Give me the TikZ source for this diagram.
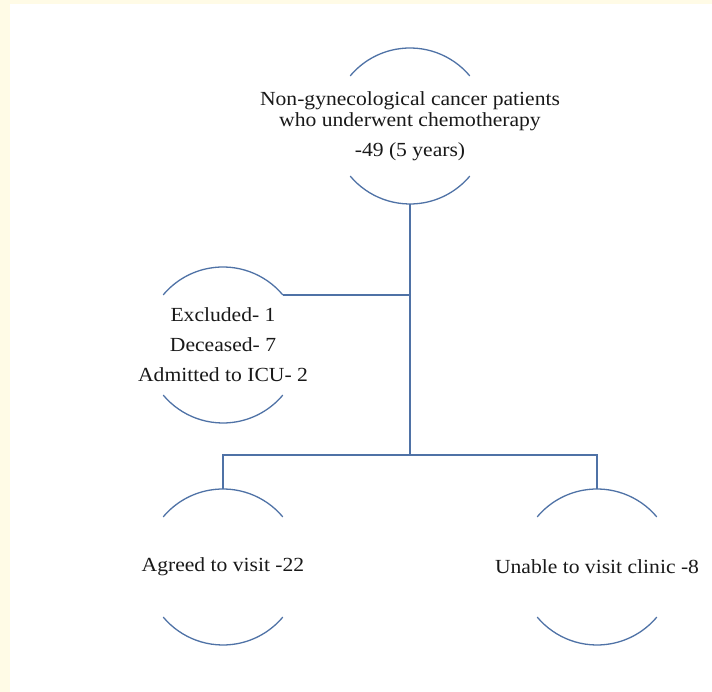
\documentclass[tikz,border=0pt]{standalone}
\usepackage{fontspec}
\setmainfont[FakeStretch=1.08]{Liberation Serif}
\usepackage{tikz}
\usepackage{xcolor}

\definecolor{arcblue}{RGB}{79,114,166}
\definecolor{pagecream}{RGB}{255,251,230}

\tikzset{
  bubble/.style={circle, minimum size=156pt, inner sep=0pt, outer sep=0pt},
  bubbletext/.style={align=center, font=\fontsize{20}{21}\selectfont, text=black!90},
  rim/.style={draw=arcblue, line width=1.3pt},
  link/.style={draw=arcblue, line width=1.3pt}
}

\begin{document}
\begin{tikzpicture}[x=1pt, y=1pt]
\fill[pagecream] (0,0) rectangle (712,692);
\fill[white] (10,0) rectangle (712,688);
\useasboundingbox (0,0) rectangle (712,692);

% bubbles, text sits in the middle
\node[bubble, label={[bubbletext]center:{Non-gynecological cancer patients\\who underwent chemotherapy\\[9pt]-49 (5 years)}}] (total) at (410,566) {};
\node[bubble, label={[bubbletext]center:{Excluded- 1\\[9pt]Deceased- 7\\[9pt]Admitted to ICU- 2}}] (excl) at (223,347) {};
\node[bubble, label={[bubbletext]center:{Agreed to visit -22}}] (agree) at (223,125) {};
\node[bubble, label={[bubbletext]center:{Unable to visit clinic -8}}] (unable) at (597,125) {};

\foreach \b in {total, excl, agree, unable} {
  \draw[rim] (\b.40) arc[start angle=40, end angle=140, radius=78pt];
  \draw[rim] (\b.220) arc[start angle=220, end angle=320, radius=78pt];
}

% connectors
\coordinate (fork) at (410,237);
\draw[link] (total.south) -- (fork);
\draw[link] (excl.40) -- (excl.40 -| total.south);
\draw[link] (agree.north) |- (fork) -| (unable.north);
\end{tikzpicture}
\end{document}
